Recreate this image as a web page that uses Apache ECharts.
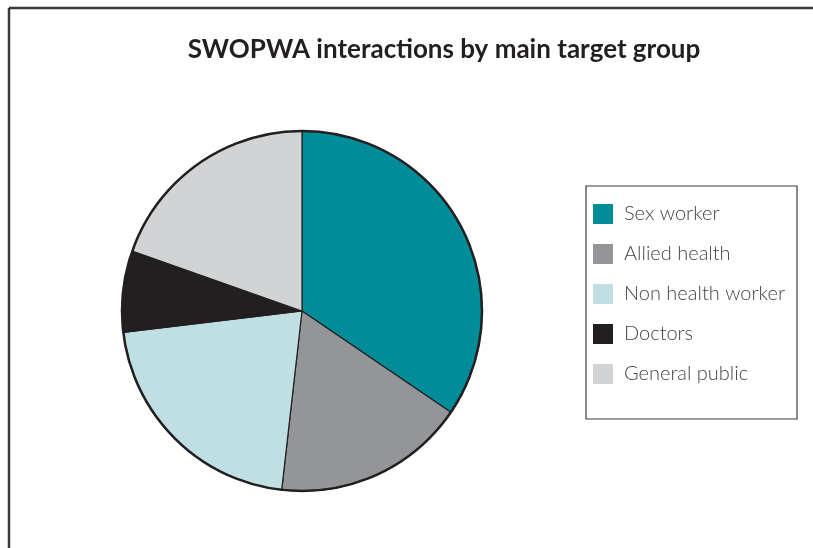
<!DOCTYPE html>
<html><head><meta charset="utf-8">
<script src="https://cdn.jsdelivr.net/npm/echarts@6/dist/echarts.min.js"></script>
<style>html,body{margin:0;padding:0;background:#fff}#c{width:813px;height:548px}</style>
</head><body><div id="c"></div>
<script>
const categories = ['Sex worker','Allied health','Non health worker','Doctors','General public'];
const values = [34.5, 17.3, 21.3, 7.3, 19.6];
const colors = ['#008c99','#939598','#bfdfe3','#231f20','#d1d3d4'];
const titleText = 'SWOPWA interactions by main target group';

const chart = echarts.init(document.getElementById('c'));
chart.setOption({
  animation: false,
  backgroundColor: '#fff',
  title: {
    text: titleText, left: 444, top: 37, textAlign: 'center', padding: 0,
    textStyle: { fontFamily: 'Lato', fontWeight: 'bold', fontSize: 26, color: '#231f20' }
  },
  legend: {
    orient: 'vertical', left: 593, top: 204, padding: 0,
    itemWidth: 20, itemHeight: 20, itemGap: 20,
    icon: 'rect',
    itemStyle: { borderWidth: 0 },
    data: categories,
    textStyle: { fontFamily: 'Lato', fontWeight: 300, fontSize: 20, lineHeight: 20, color: '#444446', padding: [0,0,0,6] }
  },
  graphic: [
    { type: 'line', shape: { x1: 9, y1: 8, x2: 813, y2: 8 }, style: { stroke: '#3a3a3a', lineWidth: 2.5 } },
    { type: 'line', shape: { x1: 9, y1: 8, x2: 9, y2: 548 }, style: { stroke: '#3a3a3a', lineWidth: 2.5 } },
    { type: 'rect', shape: { x: 586, y: 186, width: 211, height: 233 }, style: { fill: 'none', stroke: '#3a3a3a', lineWidth: 1.2 } },
    { type: 'circle', shape: { cx: 302, cy: 311, r: 180 }, style: { fill: 'none', stroke: '#231f20', lineWidth: 2.5 }, z: 100 }
  ],
  series: [{
    type: 'pie', center: [302, 311], radius: 180, startAngle: 90, clockwise: true,
    label: { show: false }, labelLine: { show: false }, emphasis: { disabled: true },
    itemStyle: { borderColor: '#231f20', borderWidth: 1.2 },
    data: categories.map((n, i) => ({ name: n, value: values[i], itemStyle: { color: colors[i] } }))
  }],
  color: colors
});
</script></body></html>
